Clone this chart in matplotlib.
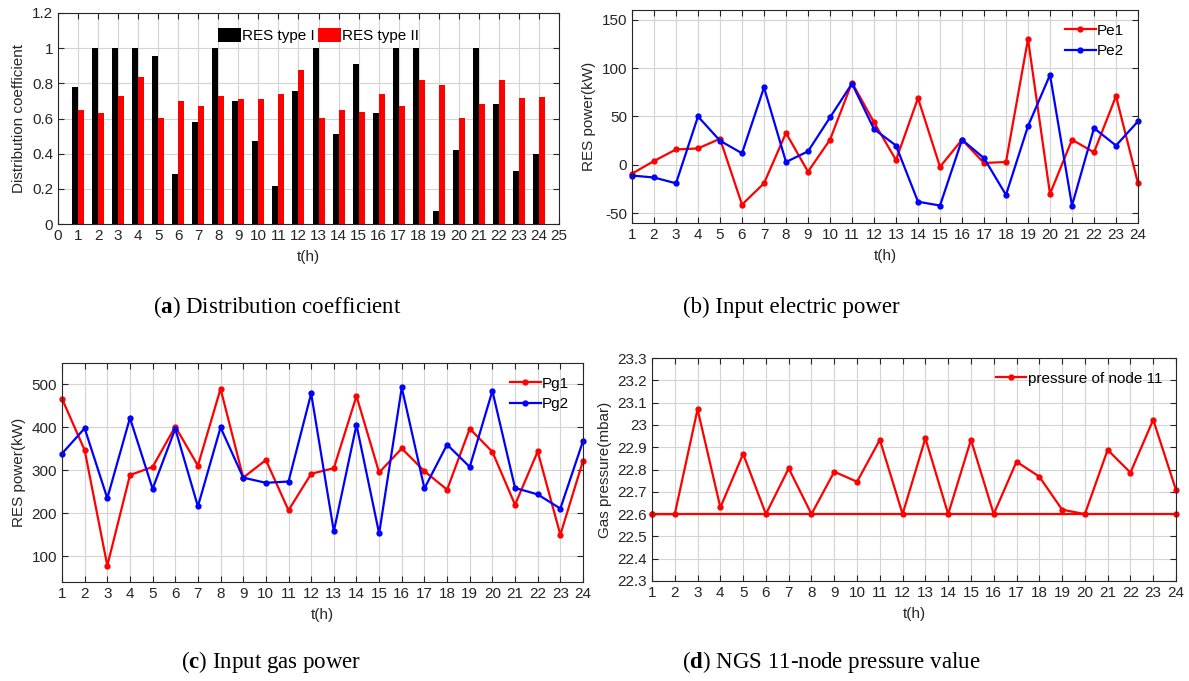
import numpy as np
import matplotlib.pyplot as plt

plt.rcParams['font.family'] = ['Liberation Sans', 'DejaVu Sans']
plt.rcParams['mathtext.fontset'] = 'custom'
plt.rcParams['mathtext.rm'] = 'Liberation Serif'
plt.rcParams['mathtext.bf'] = 'Liberation Serif:bold'
plt.rcParams['axes.unicode_minus'] = False

hours = np.arange(1, 25)

# (a) distribution coefficient
res_type1 = [0.78, 1, 1, 1, 0.955, 0.287, 0.578, 1, 0.70, 0.473, 0.214, 0.758,
             1, 0.512, 0.911, 0.63, 1, 1, 0.074, 0.42, 1, 0.682, 0.302, 0.397]
res_type2 = [0.65, 0.631, 0.726, 0.836, 0.603, 0.701, 0.673, 0.728, 0.709, 0.709, 0.739, 0.873,
             0.605, 0.646, 0.639, 0.737, 0.669, 0.817, 0.788, 0.601, 0.684, 0.817, 0.718, 0.724]

# (b) input electric power
pe1 = [-9, 4, 16, 17, 27, -41, -19, 33, -7, 26, 85, 44,
       5, 69, -2, 26, 2, 3, 130, -30, 26, 13, 71, -19]
pe2 = [-11, -13, -19, 50, 25, 12, 80, 3, 14, 49, 84, 37,
       20, -38, -42, 26, 7, -31, 40, 93, -42, 38, 20, 45]

# (c) input gas power
pg1 = [467, 347, 78, 289, 308, 402, 311, 490, 283, 324, 207, 292,
       305, 473, 295, 351, 298, 255, 397, 343, 220, 344, 150, 322]
pg2 = [339, 398, 235, 422, 257, 397, 216, 400, 283, 271, 274, 479,
       158, 406, 153, 493, 258, 360, 308, 485, 259, 244, 211, 368]

# (d) node 11 pressure
pressure = [22.6, 22.6, 23.07, 22.63, 22.87, 22.6, 22.805, 22.6, 22.79, 22.745, 22.933, 22.6,
            22.94, 22.6, 22.933, 22.6, 22.835, 22.768, 22.62, 22.6, 22.888, 22.786, 23.023, 22.708]
p_min = 22.6

W, H = 1189, 681
fig = plt.figure(figsize=(W / 100, H / 100), dpi=100)
FS = 11


def box(x0, y0, x1, y1):
    return [x0 / W, 1 - y1 / H, (x1 - x0) / W, (y1 - y0) / H]


def style(ax):
    ax.tick_params(direction='in', top=True, right=True, labelsize=FS,
                   colors='#262626', length=4)
    for s in ax.spines.values():
        s.set_color('#262626')
        s.set_linewidth(0.8)
    ax.grid(True, color='#d4d4d4', linewidth=0.8)
    ax.set_axisbelow(True)
    ax.set_xlabel('t(h)', fontsize=FS, color='#262626', labelpad=5)


def fmt(v):
    return ('%g' % round(v, 2))


line_kw = dict(lw=1.6, ms=3.5, clip_on=False)

# panel a
ax = fig.add_axes(box(58, 13, 559, 224))
ax.bar(hours - 0.15, res_type1, width=0.3, color='black', label='RES type I')
ax.bar(hours + 0.15, res_type2, width=0.3, color='red', label='RES type II')
ax.set_xlim(0, 25)
ax.set_ylim(0, 1.2)
ax.set_xticks(range(0, 26))
yt = np.arange(0, 1.21, 0.2)
ax.set_yticks(yt)
ax.set_yticklabels([fmt(v) for v in yt])
ax.set_ylabel('Distribution coefficient', fontsize=FS, color='#262626')
style(ax)
ax.legend(loc='upper center', ncol=2, frameon=False, fontsize=FS, handlelength=1.5,
          handleheight=1.1, columnspacing=0.2, handletextpad=0.1,
          bbox_to_anchor=(0.52, 0.995))

# panel b
ax = fig.add_axes(box(632, 10, 1138, 223))
ax.plot(hours, pe1, '-o', color='red', label='Pe1', **line_kw)
ax.plot(hours, pe2, '-o', color='blue', label='Pe2', **line_kw)
ax.set_xlim(1, 24)
ax.set_ylim(-60, 160)
ax.set_xticks(hours)
ax.set_yticks([-50, 0, 50, 100, 150])
ax.set_ylabel('RES power(kW)', fontsize=FS, color='#262626')
style(ax)
ax.legend(loc='upper right', frameon=False, fontsize=FS, handlelength=2.0,
          handletextpad=0.1, labelspacing=0.4)

# panel c
ax = fig.add_axes(box(62, 363, 583, 582))
ax.plot(hours, pg1, '-o', color='red', label='Pg1', **line_kw)
ax.plot(hours, pg2, '-o', color='blue', label='Pg2', **line_kw)
ax.set_xlim(1, 24)
ax.set_ylim(40, 550)
ax.set_xticks(hours)
ax.set_yticks([100, 200, 300, 400, 500])
ax.set_ylabel('RES power(kW)', fontsize=FS, color='#262626')
style(ax)
ax.legend(loc='upper right', frameon=False, fontsize=FS, handlelength=2.0,
          handletextpad=0.1, labelspacing=0.4)

# panel d
ax = fig.add_axes(box(652, 358, 1176, 581))
ax.plot(hours, pressure, '-o', color='red', label='pressure of node 11', **line_kw)
ax.plot([hours[0], hours[-1]], [p_min, p_min], '-o', color='red', **line_kw)
ax.set_xlim(1, 24)
ax.set_ylim(22.3, 23.3)
ax.set_xticks(hours)
yt = np.arange(22.3, 23.31, 0.1)
ax.set_yticks(yt)
ax.set_yticklabels([fmt(v) for v in yt])
ax.set_ylabel('Gas pressure(mbar)', fontsize=FS, color='#262626')
style(ax)
ax.legend(loc='upper right', frameon=False, fontsize=FS, handlelength=2.0,
          handletextpad=0.1)

# captions
cap = dict(fontsize=16.5, family='Liberation Serif', ha='center', va='center')
fig.text(277 / W, 1 - 307 / H, r'($\mathbf{a}$) Distribution coefficient', **cap)
fig.text(791 / W, 1 - 307 / H, '(b) Input electric power', **cap)
fig.text(271 / W, 1 - 662 / H, r'($\mathbf{c}$) Input gas power', **cap)
fig.text(831 / W, 1 - 662 / H, r'($\mathbf{d}$) NGS 11-node pressure value', **cap)

fig.savefig('out.png', dpi=100)
